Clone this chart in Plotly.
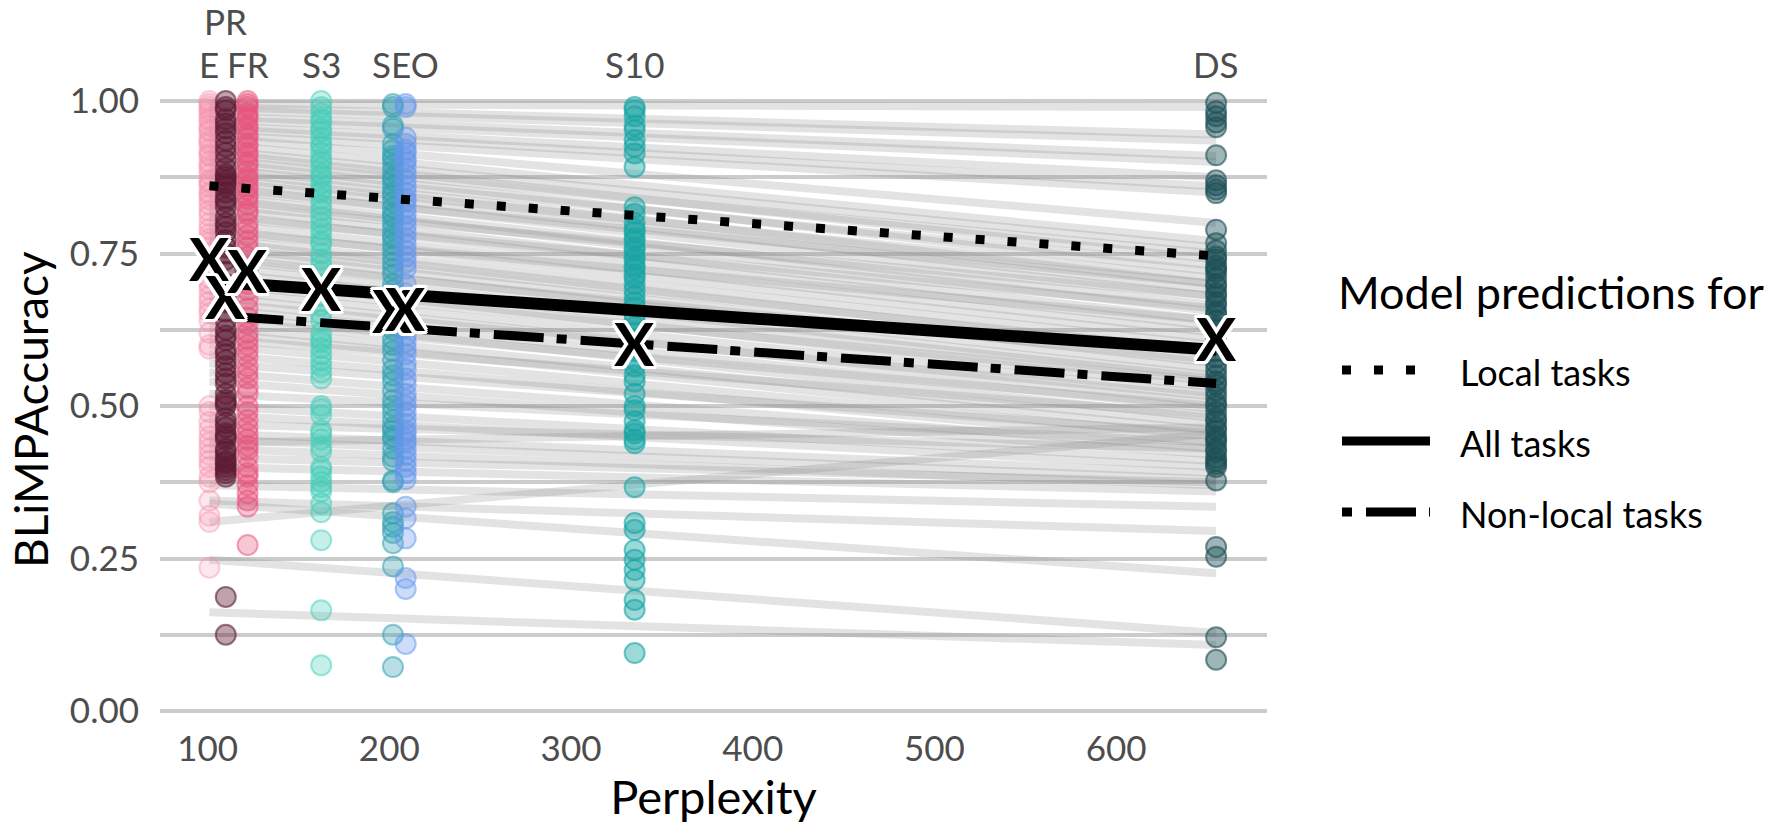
import plotly.graph_objects as go

# ---------------- data ----------------
models = ["E", "PR", "FR", "S3", "SE", "SEO", "S10", "DS"]
top_labels = ["E", "PR", "FR", "S3", "", "SEO", "S10", "DS"]
label_row = [1, 2, 1, 1, 1, 1, 1, 1]
perplexity = [101, 110, 122, 162.5, 202, 209, 335, 655]
colors = ["#F590AC", "#5C1A33", "#E8507A", "#40CDB8", "#2C9FB0", "#6495ED", "#17A5A5", "#1B4F55"]
alphas = [0.22, 0.40, 0.32, 0.30, 0.33, 0.32, 0.42, 0.42]

acc_E = [1.0, 0.995, 0.99, 0.985, 0.98, 0.972, 0.968, 0.96, 0.953, 0.95, 0.94, 0.934, 0.93, 0.92, 0.913, 0.91,
         0.90, 0.894, 0.888, 0.88, 0.87, 0.866, 0.86, 0.85, 0.846, 0.838, 0.83, 0.82, 0.812, 0.80, 0.79, 0.782,
         0.774, 0.768, 0.76, 0.75, 0.742, 0.73, 0.722, 0.71, 0.70, 0.692, 0.68, 0.671, 0.66, 0.652, 0.64, 0.62,
         0.60, 0.594, 0.50, 0.49, 0.474, 0.462, 0.45, 0.44, 0.43, 0.42, 0.41, 0.40, 0.384, 0.375, 0.345, 0.32,
         0.31, 0.235]
acc_PR = [1.0, 0.99, 0.985, 0.97, 0.963, 0.955, 0.947, 0.935, 0.925, 0.915, 0.903, 0.89, 0.88, 0.876, 0.87,
          0.865, 0.86, 0.85, 0.84, 0.835, 0.826, 0.81, 0.80, 0.794, 0.785, 0.772, 0.76, 0.75, 0.74, 0.72, 0.70,
          0.69, 0.68, 0.67, 0.655, 0.64, 0.625, 0.615, 0.608, 0.592, 0.585, 0.575, 0.565, 0.554, 0.545, 0.537,
          0.52, 0.51, 0.505, 0.50, 0.48, 0.472, 0.465, 0.455, 0.45, 0.445, 0.43, 0.425, 0.417, 0.41, 0.406, 0.40,
          0.395, 0.39, 0.384, 0.187, 0.125]
acc_FR = [1.0, 0.995, 0.99, 0.98, 0.975, 0.97, 0.96, 0.955, 0.945, 0.94, 0.93, 0.925, 0.915, 0.91, 0.90, 0.895,
          0.885, 0.875, 0.87, 0.86, 0.855, 0.845, 0.84, 0.83, 0.82, 0.815, 0.80, 0.79, 0.78, 0.77, 0.76, 0.745,
          0.73, 0.72, 0.70, 0.69, 0.675, 0.66, 0.645, 0.635, 0.62, 0.61, 0.60, 0.59, 0.58, 0.565, 0.555, 0.545,
          0.53, 0.52, 0.50, 0.49, 0.477, 0.465, 0.455, 0.445, 0.435, 0.428, 0.417, 0.40, 0.39, 0.384, 0.37, 0.357,
          0.345, 0.335, 0.272]
acc_S3 = [1.0, 0.99, 0.98, 0.97, 0.965, 0.955, 0.95, 0.94, 0.93, 0.925, 0.915, 0.905, 0.90, 0.89, 0.88, 0.875,
          0.865, 0.855, 0.85, 0.84, 0.83, 0.82, 0.81, 0.80, 0.79, 0.78, 0.77, 0.765, 0.75, 0.74, 0.73, 0.72, 0.70,
          0.68, 0.665, 0.65, 0.64, 0.62, 0.61, 0.605, 0.595, 0.585, 0.575, 0.565, 0.555, 0.545, 0.50, 0.495, 0.485,
          0.46, 0.455, 0.445, 0.433, 0.425, 0.40, 0.395, 0.385, 0.375, 0.367, 0.36, 0.34, 0.326, 0.28, 0.165, 0.075]
acc_SE = [0.995, 0.99, 0.96, 0.955, 0.93, 0.92, 0.91, 0.905, 0.895, 0.885, 0.875, 0.87, 0.86, 0.85, 0.845, 0.835,
          0.825, 0.815, 0.81, 0.80, 0.79, 0.78, 0.775, 0.765, 0.755, 0.745, 0.735, 0.725, 0.715, 0.70, 0.69, 0.675,
          0.665, 0.655, 0.645, 0.635, 0.625, 0.61, 0.60, 0.59, 0.575, 0.56, 0.55, 0.54, 0.525, 0.51, 0.50, 0.49,
          0.477, 0.465, 0.46, 0.45, 0.445, 0.43, 0.417, 0.41, 0.378, 0.375, 0.324, 0.31, 0.302, 0.292, 0.275,
          0.237, 0.125, 0.072]
acc_SEO = [0.995, 0.99, 0.94, 0.93, 0.92, 0.915, 0.905, 0.90, 0.89, 0.88, 0.87, 0.86, 0.85, 0.84, 0.835, 0.825,
           0.815, 0.805, 0.795, 0.785, 0.775, 0.765, 0.755, 0.745, 0.735, 0.725, 0.70, 0.685, 0.67, 0.655, 0.64,
           0.63, 0.615, 0.605, 0.595, 0.585, 0.57, 0.56, 0.545, 0.535, 0.52, 0.51, 0.50, 0.49, 0.48, 0.47, 0.46,
           0.455, 0.445, 0.44, 0.43, 0.42, 0.41, 0.40, 0.39, 0.38, 0.335, 0.316, 0.283, 0.218, 0.20, 0.11]
acc_S10 = [0.99, 0.985, 0.975, 0.96, 0.952, 0.936, 0.925, 0.914, 0.892, 0.826, 0.815, 0.80, 0.79, 0.785, 0.775,
           0.77, 0.76, 0.755, 0.745, 0.74, 0.73, 0.725, 0.715, 0.71, 0.70, 0.69, 0.68, 0.67, 0.662, 0.65, 0.64,
           0.63, 0.62, 0.61, 0.60, 0.59, 0.575, 0.565, 0.55, 0.54, 0.52, 0.50, 0.493, 0.475, 0.46, 0.455, 0.445,
           0.439, 0.367, 0.308, 0.297, 0.264, 0.248, 0.231, 0.215, 0.182, 0.166, 0.095]
acc_DS = [0.997, 0.983, 0.975, 0.965, 0.957, 0.911, 0.87, 0.862, 0.855, 0.849, 0.789, 0.767, 0.755, 0.745, 0.74,
          0.73, 0.725, 0.72, 0.71, 0.70, 0.695, 0.685, 0.68, 0.67, 0.665, 0.655, 0.65, 0.64, 0.63, 0.625, 0.61,
          0.60, 0.59, 0.58, 0.57, 0.56, 0.55, 0.54, 0.535, 0.525, 0.515, 0.505, 0.50, 0.49, 0.48, 0.475, 0.465,
          0.46, 0.45, 0.445, 0.44, 0.43, 0.425, 0.415, 0.41, 0.405, 0.40, 0.378, 0.269, 0.253, 0.121, 0.084]
accuracy = [acc_E, acc_PR, acc_FR, acc_S3, acc_SE, acc_SEO, acc_S10, acc_DS]

mean_acc = [0.748, 0.685, 0.728, 0.698, 0.663, 0.666, 0.608, 0.616]

# per-task fitted lines: value at lowest and at highest perplexity
task_start = [0.995, 0.99, 0.985, 0.975, 0.97, 0.96, 0.955, 0.945, 0.94, 0.93, 0.92, 0.915, 0.905, 0.90, 0.89,
              0.885, 0.875, 0.87, 0.86, 0.855, 0.845, 0.84, 0.83, 0.825, 0.815, 0.81, 0.80, 0.79, 0.785, 0.775,
              0.77, 0.76, 0.755, 0.745, 0.74, 0.73, 0.72, 0.71, 0.70, 0.69, 0.68, 0.67, 0.66, 0.65, 0.64, 0.63,
              0.62, 0.61, 0.60, 0.585, 0.57, 0.555, 0.54, 0.52, 0.50, 0.485, 0.47, 0.455, 0.445, 0.44, 0.43,
              0.415, 0.40, 0.37, 0.345, 0.34, 0.31, 0.248, 0.162]
task_end = [0.99, 0.945, 0.935, 0.91, 0.90, 0.875, 0.86, 0.85, 0.80, 0.77, 0.76, 0.74, 0.75, 0.72, 0.73,
            0.70, 0.71, 0.69, 0.68, 0.70, 0.665, 0.655, 0.68, 0.64, 0.63, 0.66, 0.62, 0.61, 0.64, 0.60,
            0.585, 0.59, 0.57, 0.56, 0.575, 0.55, 0.545, 0.53, 0.54, 0.52, 0.505, 0.515, 0.495, 0.48, 0.50, 0.47,
            0.46, 0.485, 0.45, 0.44, 0.455, 0.43, 0.42, 0.44, 0.41, 0.40, 0.43, 0.39, 0.38, 0.465, 0.37,
            0.375, 0.36, 0.335, 0.295, 0.226, 0.455, 0.128, 0.108]

pred_names = ["Local tasks", "All tasks", "Non-local tasks"]
pred_start = [0.861, 0.704, 0.649]
pred_end = [0.746, 0.592, 0.537]
pred_dash = ["9px,23px", "solid", "10px,14px,50px,13px"]
pred_width = [9, 12, 9]

# ---------------- layout geometry ----------------
W, H = 1785, 826
PL, PRt, PT, PB = 160, 1267, 70, 725


def paper_x(px):
    return (px - PL) / (PRt - PL)


def paper_y(py):
    return (PB - py) / (PB - PT)


FONT = "Lato"
x_lo, x_hi = min(perplexity), max(perplexity)

fig = go.Figure()

# task lines
for s, e in zip(task_start, task_end):
    fig.add_trace(go.Scatter(x=[x_lo, x_hi], y=[s, e], mode="lines",
                             line=dict(color="rgba(140,140,140,0.24)", width=8),
                             hoverinfo="skip", showlegend=False))


def rgba(hexc, a):
    h = hexc.lstrip("#")
    r, g, b = int(h[0:2], 16), int(h[2:4], 16), int(h[4:6], 16)
    return f"rgba({r},{g},{b},{a})"


# model points
for m, px, vals, c, a in zip(models, perplexity, accuracy, colors, alphas):
    fig.add_trace(go.Scatter(x=[px] * len(vals), y=vals, mode="markers", name=m,
                             marker=dict(size=20, color=rgba(c, a),
                                         line=dict(color=rgba(c, min(1, a + 0.2)), width=2)),
                             showlegend=False))

# prediction lines
for n, s, e, d, w in zip(pred_names, pred_start, pred_end, pred_dash, pred_width):
    fig.add_trace(go.Scatter(x=[x_lo, x_hi], y=[s, e], mode="lines", name=n,
                             line=dict(color="black", width=w, dash=d), showlegend=False))

# mean markers ("X" with white outline), drawn through the data axes
shadow = ",".join(f"{dx}px {dy}px 0 white" for dx, dy in
                  [(3, 0), (-3, 0), (0, 3), (0, -3), (2, 2), (-2, -2), (2, -2), (-2, 2),
                   (3, 2), (-3, 2), (3, -2), (-3, -2), (2, 3), (-2, 3), (2, -3), (-2, -3)])
annotations = []
for px, v in zip(perplexity, mean_acc):
    annotations.append(dict(x=px, y=v, xref="x", yref="y", text="X", showarrow=False,
                            xanchor="center", yanchor="middle", yshift=-3,
                            font=dict(family=FONT, size=60, color="black", weight="bold", shadow=shadow)))

# top model labels
for lab, row, px in zip(top_labels, label_row, perplexity):
    if not lab:
        continue
    annotations.append(dict(x=px, xref="x", y=paper_y(64 if row == 1 else 21), yref="paper",
                            text=lab, showarrow=False, xanchor="center", yanchor="middle",
                            font=dict(family=FONT, size=35, color="#4d4d4d")))

# y axis title
annotations.append(dict(x=paper_x(30), y=paper_y(410), xref="paper", yref="paper",
                        text="BLiMPAccuracy", textangle=-90, showarrow=False,
                        xanchor="center", yanchor="middle",
                        font=dict(family=FONT, size=46, color="black")))

# manual legend
annotations.append(dict(x=paper_x(1336), y=paper_y(292), xref="paper", yref="paper",
                        text="Model predictions for", showarrow=False, xanchor="left", yanchor="middle",
                        font=dict(family=FONT, size=45, color="black")))
shapes = []
leg_y = [370, 441, 512]
for n, d, yy in zip(pred_names, pred_dash, leg_y):
    shapes.append(dict(type="line", xref="paper", yref="paper",
                       x0=paper_x(1342), x1=paper_x(1430), y0=paper_y(yy), y1=paper_y(yy),
                       line=dict(color="black", width=9, dash=d)))
    annotations.append(dict(x=paper_x(1458), y=paper_y(yy + 2), xref="paper", yref="paper",
                            text=n, showarrow=False, xanchor="left", yanchor="middle",
                            font=dict(family=FONT, size=36, color="black")))

x_range = [73.8, 683.0]
y_range = [-(PB - 711) / 610, 1 + (101 - PT) / 610]

fig.update_layout(
    width=W, height=H,
    margin=dict(l=PL, r=W - PRt, t=PT, b=H - PB, pad=0),
    paper_bgcolor="white", plot_bgcolor="white",
    font=dict(family=FONT, color="#4d4d4d"),
    annotations=annotations, shapes=shapes, showlegend=False,
    xaxis=dict(range=x_range, tickvals=[100, 200, 300, 400, 500, 600], showgrid=False, zeroline=False,
               showline=False, ticks="", tickfont=dict(family=FONT, size=35, color="#4d4d4d"),
               ticklabelstandoff=0,
               title=dict(text="Perplexity", font=dict(family=FONT, size=47, color="black"), standoff=12)),
    yaxis=dict(range=y_range, tickvals=[0, 0.25, 0.5, 0.75, 1.0],
               ticktext=["0.00", "0.25", "0.50", "0.75", "1.00"],
               showgrid=True, gridcolor="#cccccc", gridwidth=3.5, zeroline=False, showline=False, ticks="",
               minor=dict(dtick=0.125, tick0=0, showgrid=True, gridcolor="#cccccc", gridwidth=3.5),
               tickfont=dict(family=FONT, size=35, color="#4d4d4d"), ticklabelstandoff=20),
)

fig.write_html("out.html")
